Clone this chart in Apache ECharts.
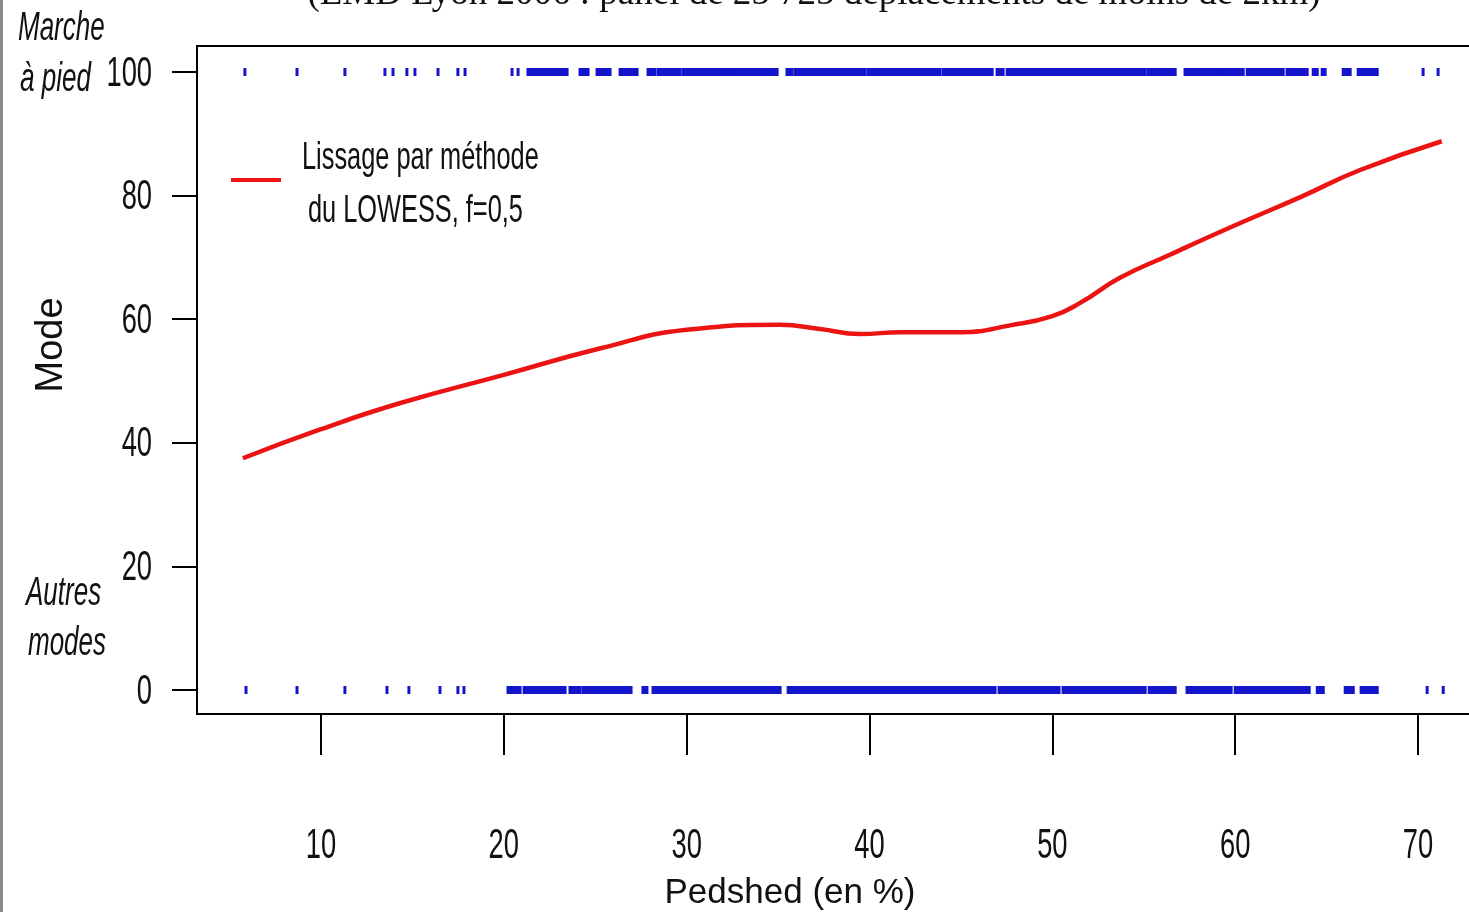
<!DOCTYPE html>
<html>
<head>
<meta charset="utf-8">
<script src="https://cdn.jsdelivr.net/npm/echarts@6/dist/echarts.min.js"></script>
<style>html,body{margin:0;padding:0;background:#fff}#c{width:1469px;height:912px}</style>
</head>
<body>
<div id="c"></div>
<script>
const xTicks = [10, 20, 30, 40, 50, 60, 70];
const yTicks = [0, 20, 40, 60, 80, 100];
const lowessX = [5.73, 10, 14.3, 20, 25.3, 30, 35.1, 37.3, 39.5, 41.7, 45, 47.7, 50, 51.5, 53.7, 56.4, 60, 63.6, 66.8, 71.3];
const lowessY = [37.5, 42.2, 46.4, 51.0, 55.3, 58.3, 59.1, 58.4, 57.6, 57.9, 57.9, 59.0, 60.5, 62.6, 66.7, 70.4, 75.2, 79.8, 84.1, 88.8];
const walkY = 100;
const otherY = 0;
const walkRuns = [[5.84,5.84],[8.69,8.69],[11.31,11.31],[13.50,13.50],[13.94,13.94],[14.70,14.70],[15.14,15.14],[16.40,16.40],[17.49,17.49],[17.88,17.88],[20.45,20.45],[20.78,20.78],[21.32,23.46],[24.17,24.61],[25.10,25.81],[26.36,27.29],[27.89,27.89],[28.00,28.27],[28.44,29.64],[29.80,32.21],[32.32,32.48],[32.59,34.95],[35.49,35.77],[35.93,39.76],[39.92,43.86],[44.03,46.71],[46.98,47.31],[47.53,55.08],[55.24,56.72],[57.26,59.34],[59.45,60.44],[60.66,62.63],[62.84,63.94],[64.27,64.49],[64.76,64.92],[65.91,66.29],[66.73,67.77],[70.28,70.28],[71.10,71.10]];
const otherRuns = [[5.90,5.90],[8.69,8.69],[11.31,11.31],[13.61,13.61],[14.81,14.81],[16.51,16.51],[17.49,17.49],[17.82,17.82],[20.23,20.89],[21.11,23.07],[23.18,23.35],[23.62,24.17],[24.33,25.86],[25.97,26.96],[27.61,27.83],[28.16,31.61],[31.72,31.94],[32.05,35.11],[35.55,43.92],[44.03,46.87],[47.09,50.37],[50.59,55.08],[55.30,56.72],[57.37,59.78],[60.00,60.66],[60.77,63.17],[63.28,64.05],[64.49,64.82],[66.02,66.46],[66.89,67.77],[70.50,70.50],[71.38,71.38]];
const seriesName = 'Lissage par méthode du LOWESS, f=0,5';
const legendLines = ['Lissage par méthode', 'du LOWESS, f=0,5'];

const SANS = '"Liberation Sans", Arial, Helvetica, sans-serif';
const NARROW_SCALE = 0.65;
const RED = '#ec1313';
const X_MIN = 3.22, X_MAX = 72.79, Y_MIN = -3.88, Y_MAX = 104.21;

const chart = echarts.init(document.getElementById('c'));
const runData = walkRuns.map(r => [r[0], r[1], walkY]).concat(otherRuns.map(r => [r[0], r[1], otherY]));

chart.setOption({
  animation: false,
  backgroundColor: '#fff',
  grid: { left: 197, top: 46, right: 0, bottom: 198, show: false, containLabel: false },
  xAxis: [
    {
      type: 'value', min: X_MIN, max: X_MAX, position: 'bottom',
      axisLine: { show: true, onZero: false, lineStyle: { color: '#000', width: 2 } },
      splitLine: { show: false },
      axisTick: { show: true, length: 41, lineStyle: { color: '#000', width: 2 }, customValues: xTicks },
      axisLabel: { show: false, customValues: xTicks }
    },
    {
      type: 'value', min: X_MIN, max: X_MAX, position: 'top',
      axisLine: { show: true, onZero: false, lineStyle: { color: '#000', width: 2 } },
      splitLine: { show: false }, axisTick: { show: false }, axisLabel: { show: false }
    }
  ],
  yAxis: {
    type: 'value', min: Y_MIN, max: Y_MAX,
    axisLine: { show: true, onZero: false, lineStyle: { color: '#000', width: 2 } },
    splitLine: { show: false },
    axisTick: { show: true, length: 25, lineStyle: { color: '#000', width: 2 }, customValues: yTicks },
    axisLabel: { show: false, customValues: yTicks }
  },
  legend: {
    left: 231, top: 178, padding: 0, icon: 'rect', itemWidth: 50, itemHeight: 4,
    data: [seriesName], formatter: () => '', selectedMode: false
  },
  series: [
    {
      type: 'custom', name: 'observations', silent: true,
      data: runData,
      renderItem: function (params, api) {
        const p1 = api.coord([api.value(0), api.value(2)]);
        const p2 = api.coord([api.value(1), api.value(2)]);
        return { type: 'rect', shape: { x: p1[0] - 1.5, y: p1[1] - 4, width: Math.max(p2[0] - p1[0] + 3, 3), height: 8 }, style: { fill: '#1414cc' } };
      }
    },
    {
      type: 'line', name: seriesName,
      data: lowessX.map((x, i) => [x, lowessY[i]]),
      smooth: 0.5, showSymbol: false, symbol: 'none',
      lineStyle: { color: RED, width: 4.5 }, itemStyle: { color: RED }
    }
  ]
});

function narrowText(x, y, text, size, align, italic) {
  return { type: 'text', x: x, y: y, scaleX: NARROW_SCALE, silent: true,
    style: { text: text, font: (italic ? 'italic ' : '') + size + 'px ' + SANS, fill: '#111', align: align, verticalAlign: 'middle' } };
}

const graphics = [
  { type: 'rect', left: 0, top: 0, shape: { width: 3, height: 912 }, style: { fill: '#8a8a8a' }, silent: true },
  { type: 'text', x: 814, y: -6, silent: true, style: { text: '(EMD Lyon 2006 : panel de 25 725 déplacements de moins de 2km)', font: '37px "Liberation Serif", serif', fill: '#111', align: 'center', verticalAlign: 'middle' } },
  narrowText(18, 29, 'Marche', 40, 'left', true),
  narrowText(20, 80, 'à pied', 40, 'left', true),
  narrowText(26, 594, 'Autres', 40, 'left', true),
  narrowText(28, 644, 'modes', 40, 'left', true),
  narrowText(302, 158, legendLines[0], 39, 'left', false),
  narrowText(308, 211, legendLines[1], 39, 'left', false),
  { type: 'text', x: 52, y: 345, rotation: Math.PI / 2, silent: true, style: { text: 'Mode', font: '38px ' + SANS, fill: '#111', align: 'center', verticalAlign: 'middle' } },
  { type: 'text', x: 790, y: 893, silent: true, style: { text: 'Pedshed (en %)', font: '35px ' + SANS, fill: '#111', align: 'center', verticalAlign: 'middle' } }
];
xTicks.forEach(v => {
  const px = chart.convertToPixel({ xAxisIndex: 0 }, v);
  graphics.push(narrowText(px, 846, String(v), 42, 'center', false));
});
yTicks.forEach(v => {
  const py = chart.convertToPixel({ yAxisIndex: 0 }, v);
  graphics.push(narrowText(152, py + 2, String(v), 42, 'right', false));
});
chart.setOption({ graphic: graphics });
</script>
</body>
</html>
